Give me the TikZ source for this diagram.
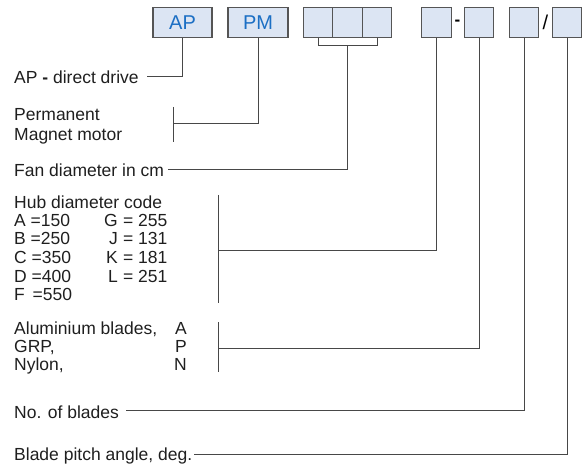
\documentclass[tikz,border=0pt]{standalone}
\usepackage{fontspec}
\setmainfont{Liberation Sans}
\usetikzlibrary{positioning}
\definecolor{boxfill}{HTML}{DCE5F3}
\definecolor{boxline}{HTML}{555555}
\definecolor{codeblue}{HTML}{1C6FC4}
\definecolor{leader}{HTML}{474747}

\begin{document}
\begin{tikzpicture}[x=1pt,y=-1pt,
    codebox/.style={draw=boxline, fill=boxfill, line width=1.1pt, minimum height=30pt,
        minimum width=29.5pt, inner sep=0pt, text=codeblue, font=\fontsize{20}{20}\selectfont},
    lab/.style={anchor=base west, inner sep=0pt, text=black!88, font=\fontsize{17.5}{20}\selectfont},
    lead/.style={draw=leader, line width=0.9pt}]
    \useasboundingbox (0,0) rectangle (587,468);

    % code boxes
    \node[codebox, minimum width=59pt] (ap) at (182.5,22.5) {AP};
    \node[codebox, minimum width=60pt] (pm) at (258,22.5) {PM};
    \node[codebox] (fan1) at (318,22.5) {};
    \node[codebox] (fan2) at (347.5,22.5) {};
    \node[codebox] (fan3) at (377,22.5) {};
    \node[codebox] (hub) at (436.5,22.5) {};
    \node[codebox] (mat) at (479,22.5) {};
    \node[codebox] (num) at (524,22.5) {};
    \node[codebox] (pitch) at (567,22.5) {};
    \node[inner sep=0pt, font=\fontsize{17}{17}\bfseries] (dash) at (457.5,23) {-};
    \node[inner sep=0pt, font=\fontsize{20}{20}\selectfont] (slash) at (545.5,22.5) {/};

    % labels
    \node[lab] (aptext) at (14,84) {AP \textbf{-} direct drive};
    \node[lab] (pmtext1) at (14,121) {Permanent};
    \node[lab] (pmtext2) at (14,141) {Magnet motor};
    \node[lab] (fantext) at (14,177) {Fan diameter in cm};
    \node[lab] (hubtext) at (14,208) {Hub diameter code};
    \foreach \l/\v/\r/\w [count=\i] in {A/150/G/255, B/250/J/131, C/350/K/181, D/400/L/251} {
        \node[lab] (hubl\i) at (14,207.5+18.7*\i) {\l\ =\v};
        \node[lab, anchor=base east] (hubr\i) at (118,207.5+18.7*\i) {\r};
        \node[lab] (hubv\i) at (118,207.5+18.7*\i) {\ = \w};
    }
    \node[lab] (hubl5) at (14,301) {F \,=550};
    \foreach \m/\c [count=\i] in {{Aluminium blades,}/A, {GRP,}/P, {Nylon,}/N} {
        \node[lab] (matl\i) at (14,316+18*\i) {\m};
        \node[lab, anchor=base east] (matc\i) at (187,316+18*\i) {\c};
    }
    \node[lab] (numtext) at (14,418) {No. of blades};
    \node[lab] (pitchtext) at (14,460) {Blade pitch angle, deg.};

    % brackets beside the texts
    \coordinate (pmbr) at (173,123);
    \draw[lead] (173,107) -- (173,142);
    \coordinate (hubbr) at (218.5,250);
    \draw[lead] (218.5,195) -- (218.5,303);
    \coordinate (matbr) at (218.5,348);
    \draw[lead] (218.5,322) -- (218.5,372);

    % leader lines
    \draw[lead] (ap.south) |- ([xshift=8pt,yshift=1pt]aptext.east);
    \draw[lead] (pm.south) |- (pmbr);
    \draw[lead] (fan1.south) -- ++(0,7) coordinate (fanbr) -| (fan3.south);
    \draw[lead] (fan2.south |- fanbr) |- ([xshift=4pt,yshift=1pt]fantext.east);
    \draw[lead] (hub.south) |- (hubbr);
    \draw[lead] (mat.south) |- (matbr);
    \draw[lead] (num.south) |- ([xshift=7pt,yshift=1pt]numtext.east);
    \draw[lead] (pitch.south) |- ([xshift=1.5pt,yshift=1pt]pitchtext.east);
\end{tikzpicture}
\end{document}
